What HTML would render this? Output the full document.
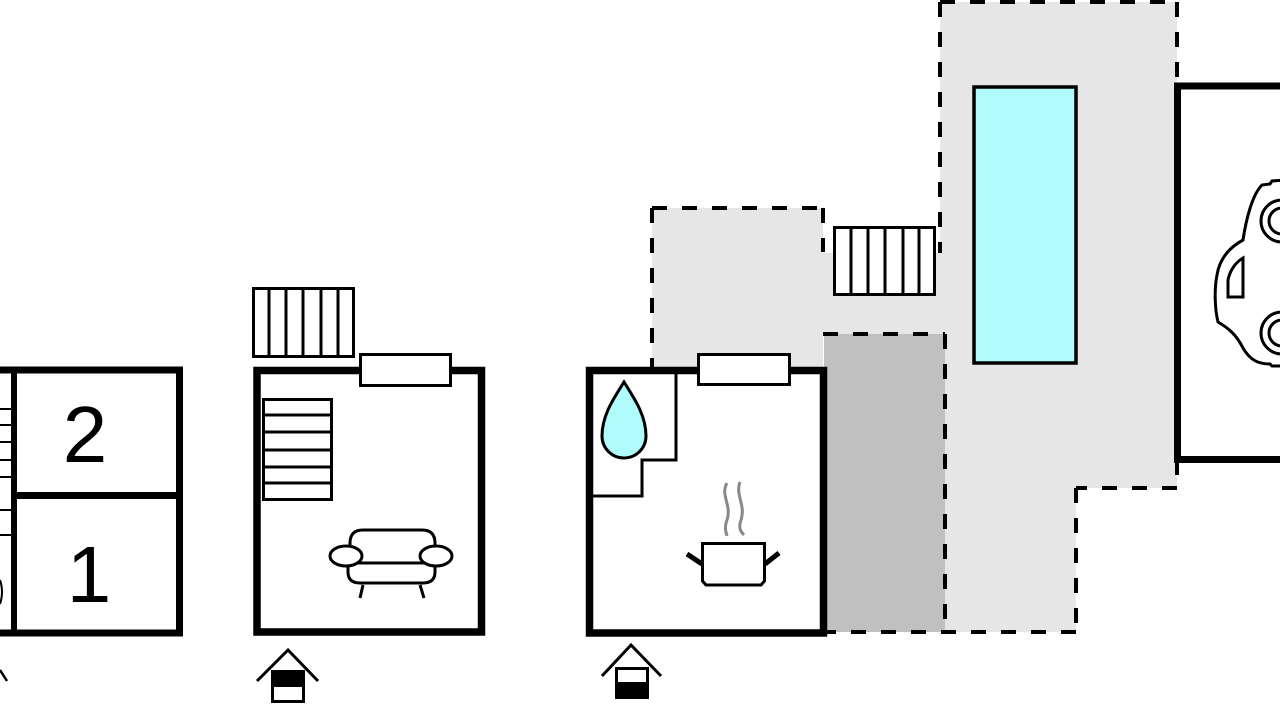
<!DOCTYPE html>
<html>
<head>
<meta charset="utf-8">
<style>
  html,body{margin:0;padding:0;background:#fff;}
  svg{display:block;}
</style>
</head>
<body>
<svg width="1280" height="720" viewBox="0 0 1280 720" xmlns="http://www.w3.org/2000/svg">
  <rect x="0" y="0" width="1280" height="720" fill="#fff"/>

  <!-- light gray outdoor area -->
  <polygon points="652,208 823,208 823,253 940,253 940,2 1177,2 1177,488 1076,488 1076,632 945,632 945,334 823,334 823,368 652,368" fill="#e6e6e6"/>
  <!-- dark gray area -->
  <rect x="824" y="334" width="121" height="298" fill="#c0c0c0"/>

  <!-- dashed borders -->
  <g stroke="#000" stroke-width="4" stroke-dasharray="15 15" fill="none">
    <line x1="652" y1="208" x2="823" y2="208"/>
    <line x1="652" y1="208" x2="652" y2="368"/>
    <line x1="823" y1="208" x2="823" y2="252"/>
    <line x1="940" y1="2" x2="1177" y2="2"/>
    <line x1="940" y1="2" x2="940" y2="253"/>
    <line x1="1177" y1="2" x2="1177" y2="84"/>
    <line x1="1177" y1="460" x2="1177" y2="488"/>
    <line x1="1177" y1="488" x2="1076" y2="488"/>
    <line x1="1076" y1="488" x2="1076" y2="632"/>
    <line x1="1076" y1="632" x2="826" y2="632"/>
    <line x1="823" y1="334" x2="945" y2="334"/>
    <line x1="945" y1="334" x2="945" y2="632"/>
  </g>

  <!-- pool -->
  <rect x="974" y="87" width="102" height="276" fill="#b0fbfb" stroke="#000" stroke-width="3.5"/>

  <!-- stairs near pool -->
  <rect x="834.5" y="227.5" width="100" height="67" fill="#fff" stroke="#000" stroke-width="3"/>
  <g stroke="#000" stroke-width="3">
    <line x1="851" y1="227" x2="851" y2="295"/>
    <line x1="868" y1="227" x2="868" y2="295"/>
    <line x1="885" y1="227" x2="885" y2="295"/>
    <line x1="903" y1="227" x2="903" y2="295"/>
    <line x1="919" y1="227" x2="919" y2="295"/>
  </g>

  <!-- garage -->
  <rect x="1177.5" y="86" width="120" height="373.5" fill="#fff" stroke="#000" stroke-width="7"/>
  <!-- car -->
  <path d="M1285,180 L1272,181 L1270,184 L1262,185 C1252,195 1246,220 1243,240 C1232,246 1220,256 1217,275 C1214,290 1215,310 1218,322 C1228,328 1236,334 1243,348 C1250,360 1258,364 1270,364 L1272,366 L1285,366" fill="#fff" stroke="#000" stroke-width="3"/>
  <circle cx="1282" cy="221" r="21" fill="#fff" stroke="#000" stroke-width="3"/>
  <circle cx="1282" cy="221" r="13" fill="#fff" stroke="#000" stroke-width="3"/>
  <circle cx="1282" cy="333" r="21" fill="#fff" stroke="#000" stroke-width="3"/>
  <circle cx="1282" cy="333" r="13" fill="#fff" stroke="#000" stroke-width="3"/>
  <path d="M1243,258 L1243,297 L1228,297 L1228,280 C1230,270 1236,262 1243,258 Z" fill="#fff" stroke="#000" stroke-width="3"/>

  <!-- LEFT BUILDING -->
  <rect x="-10" y="370" width="189.5" height="263" fill="#fff" stroke="#000" stroke-width="7"/>
  <line x1="14" y1="370" x2="14" y2="633" stroke="#000" stroke-width="6"/>
  <line x1="14" y1="495.5" x2="180" y2="495.5" stroke="#000" stroke-width="7"/>
  <g stroke="#000" stroke-width="2">
    <line x1="0" y1="409" x2="12" y2="409"/>
    <line x1="0" y1="425" x2="12" y2="425"/>
    <line x1="0" y1="442" x2="12" y2="442"/>
    <line x1="0" y1="460" x2="12" y2="460"/>
    <line x1="0" y1="477" x2="12" y2="477"/>
    <line x1="0" y1="510" x2="12" y2="510"/>
    <line x1="0" y1="535" x2="12" y2="535"/>
  </g>
  <path d="M0,580 Q4,592 0,604" fill="none" stroke="#000" stroke-width="2"/>
  <line x1="0" y1="670" x2="7" y2="681" stroke="#000" stroke-width="2.5"/>
  <text x="85" y="462" text-anchor="middle" font-family="'Liberation Sans', Arial, sans-serif" font-size="80" fill="#000">2</text>
  <text x="89" y="602" text-anchor="middle" font-family="'Liberation Sans', Arial, sans-serif" font-size="80" fill="#000">1</text>

  <!-- MIDDLE BUILDING -->
  <!-- outside stairs -->
  <rect x="253.5" y="288.5" width="100" height="68" fill="#fff" stroke="#000" stroke-width="3"/>
  <g stroke="#000" stroke-width="3">
    <line x1="269" y1="288" x2="269" y2="357"/>
    <line x1="286" y1="288" x2="286" y2="357"/>
    <line x1="303" y1="288" x2="303" y2="357"/>
    <line x1="321" y1="288" x2="321" y2="357"/>
    <line x1="338" y1="288" x2="338" y2="357"/>
  </g>
  <rect x="257" y="370.5" width="224.5" height="261.5" fill="#fff" stroke="#000" stroke-width="7.5"/>
  <rect x="360.5" y="354.5" width="90" height="31" fill="#fff" stroke="#000" stroke-width="3"/>
  <!-- inner stairs -->
  <rect x="263.5" y="399.5" width="68" height="100" fill="#fff" stroke="#000" stroke-width="3"/>
  <g stroke="#000" stroke-width="3">
    <line x1="263" y1="415" x2="332" y2="415"/>
    <line x1="263" y1="432" x2="332" y2="432"/>
    <line x1="263" y1="450" x2="332" y2="450"/>
    <line x1="263" y1="467" x2="332" y2="467"/>
    <line x1="263" y1="483" x2="332" y2="483"/>
  </g>
  <!-- sofa -->
  <g fill="#fff" stroke="#000" stroke-width="3">
    <path d="M350,563 L350,543 Q350,530 363,530 L422,530 Q435,530 435,543 L435,563"/>
    <path d="M348,563 L348,572 Q348,583 360,583 L423,583 Q435,583 435,572 L435,563 Z"/>
    <ellipse cx="346" cy="556" rx="16" ry="10"/>
    <ellipse cx="436" cy="556" rx="16" ry="10"/>
    <line x1="363" y1="585" x2="360" y2="598"/>
    <line x1="420" y1="585" x2="424" y2="598"/>
  </g>
  <!-- entry icon -->
  <polyline points="257,681 288,650 318,681" fill="none" stroke="#000" stroke-width="3"/>
  <rect x="272.5" y="671.5" width="31" height="30" fill="#fff" stroke="#000" stroke-width="3"/>
  <rect x="272" y="671" width="32" height="16" fill="#000"/>

  <!-- KITCHEN BUILDING -->
  <rect x="589.5" y="370.5" width="234" height="262.5" fill="#fff" stroke="#000" stroke-width="7.5"/>
  <rect x="698.5" y="354.5" width="91" height="30" fill="#fff" stroke="#000" stroke-width="3"/>
  <polyline points="676,372 676,460 642,460 642,496 591,496" fill="none" stroke="#000" stroke-width="3"/>
  <path d="M624,382 C614,398 602,415 602,436 A22,22 0 0 0 646,436 C646,415 634,398 624,382 Z" fill="#b0fbfb" stroke="#000" stroke-width="3"/>
  <!-- steam -->
  <path d="M727,483 C720,495 732,505 727,520 C724,528 726,532 727,536" fill="none" stroke="#888" stroke-width="3"/>
  <path d="M740,482 C735,495 746,505 741,520 C738,528 741,532 744,535" fill="none" stroke="#888" stroke-width="3"/>
  <!-- pot -->
  <path d="M702.5,543.5 L764.5,543.5 L764.5,581 L761,585 L706,585 L702.5,581 Z" fill="#fff" stroke="#000" stroke-width="3"/>
  <line x1="687" y1="554" x2="702" y2="564" stroke="#000" stroke-width="5"/>
  <line x1="765" y1="564" x2="779" y2="553" stroke="#000" stroke-width="5"/>
  <!-- entry icon -->
  <polyline points="602,676 631,645 661,676" fill="none" stroke="#000" stroke-width="3"/>
  <rect x="616.5" y="668.5" width="31" height="29" fill="#fff" stroke="#000" stroke-width="3"/>
  <rect x="616" y="682" width="32" height="17" fill="#000"/>
</svg>
</body>
</html>
